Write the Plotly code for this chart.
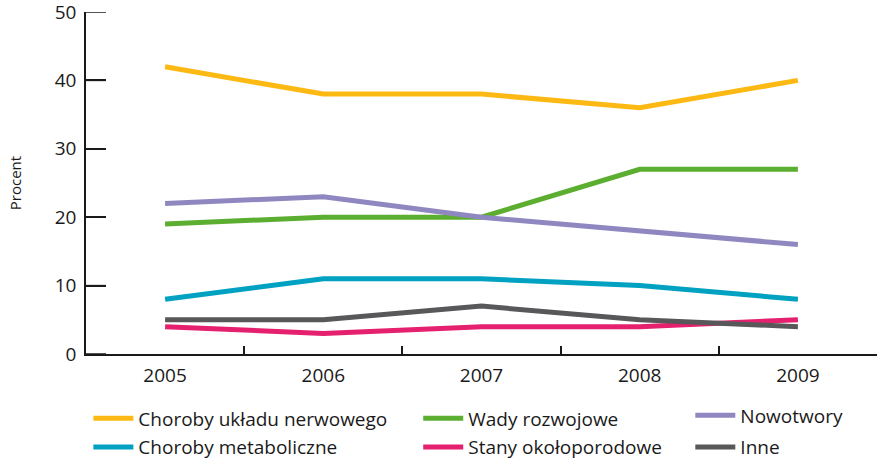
import plotly.graph_objects as go

years = ["2005", "2006", "2007", "2008", "2009"]
nerwowego = [42, 38, 38, 36, 40]
wady = [19, 20, 20, 27, 27]
nowotwory = [22, 23, 20, 18, 16]
metaboliczne = [8, 11, 11, 10, 8]
okoloporodowe = [4, 3, 4, 4, 5]
inne = [5, 5, 7, 5, 4]
yticks = [0, 10, 20, 30, 40, 50]

series = [
    ("Choroby układu nerwowego", nerwowego, "#FDB913", "legend"),
    ("Choroby metaboliczne", metaboliczne, "#00A1C1", "legend"),
    ("Wady rozwojowe", wady, "#5BAE2F", "legend2"),
    ("Stany okołoporodowe", okoloporodowe, "#E4206F", "legend2"),
    ("Nowotwory", nowotwory, "#8F87C0", "legend3"),
    ("Inne", inne, "#58585A", "legend3"),
]

FONT = "Open Sans"
AX = "#1a1a1a"
fig = go.Figure()
for i in [1, 3, 5, 2, 4, 0]:
    name, vals, col, lg = series[i]
    fig.add_trace(go.Scatter(
        x=years, y=vals, name=name, mode="lines",
        line=dict(color=col, width=5),
        legend=lg, legendgroup=name, legendrank=i,
    ))

# short inward tick marks on the value axis, placed through the y scale
for v in yticks:
    fig.add_shape(type="line", xref="x domain", yref="y",
                  x0=0, x1=20 / 791, y0=v, y1=v,
                  line=dict(color=AX, width=1.5), layer="below")

def legstyle(gap):
    return dict(orientation="v", bgcolor="rgba(0,0,0,0)", tracegroupgap=gap,
                font=dict(family=FONT, size=19, color=AX),
                xanchor="left", yanchor="top", itemwidth=40)

fig.update_layout(
    width=877, height=461,
    margin=dict(l=86, r=0, t=12, b=107, autoexpand=False),
    paper_bgcolor="white", plot_bgcolor="white",
    font=dict(family=FONT, size=19, color=AX),
    showlegend=True,
    legend=dict(x=0.003, y=-0.133, **legstyle(1)),
    legend2=dict(x=0.42, y=-0.133, **legstyle(1)),
    legend3=dict(x=0.764, y=-0.124, **legstyle(4)),
    xaxis=dict(
        type="category", range=[-0.5, 4.5],
        showline=True, linecolor=AX, linewidth=1.5,
        ticks="inside", tickson="boundaries", ticklen=8, tickwidth=1.5, tickcolor=AX,
        showgrid=False, zeroline=False,
        tickfont=dict(family=FONT, size=19, color=AX),
        ticklabelstandoff=3,
    ),
    yaxis=dict(
        range=[0, 50], tickmode="array", tickvals=yticks,
        showline=True, linecolor=AX, linewidth=1.5,
        ticks="inside", ticklen=20, tickwidth=1.5, tickcolor=AX,
        showgrid=False, zeroline=False,
        tickfont=dict(family=FONT, size=19, color=AX),
        ticklabeloverflow="allow",
        ticklabelstandoff=4,
        title=dict(text="Procent", font=dict(family=FONT, size=15, color=AX), standoff=29),
    ),
)

fig.write_html("out.html")
